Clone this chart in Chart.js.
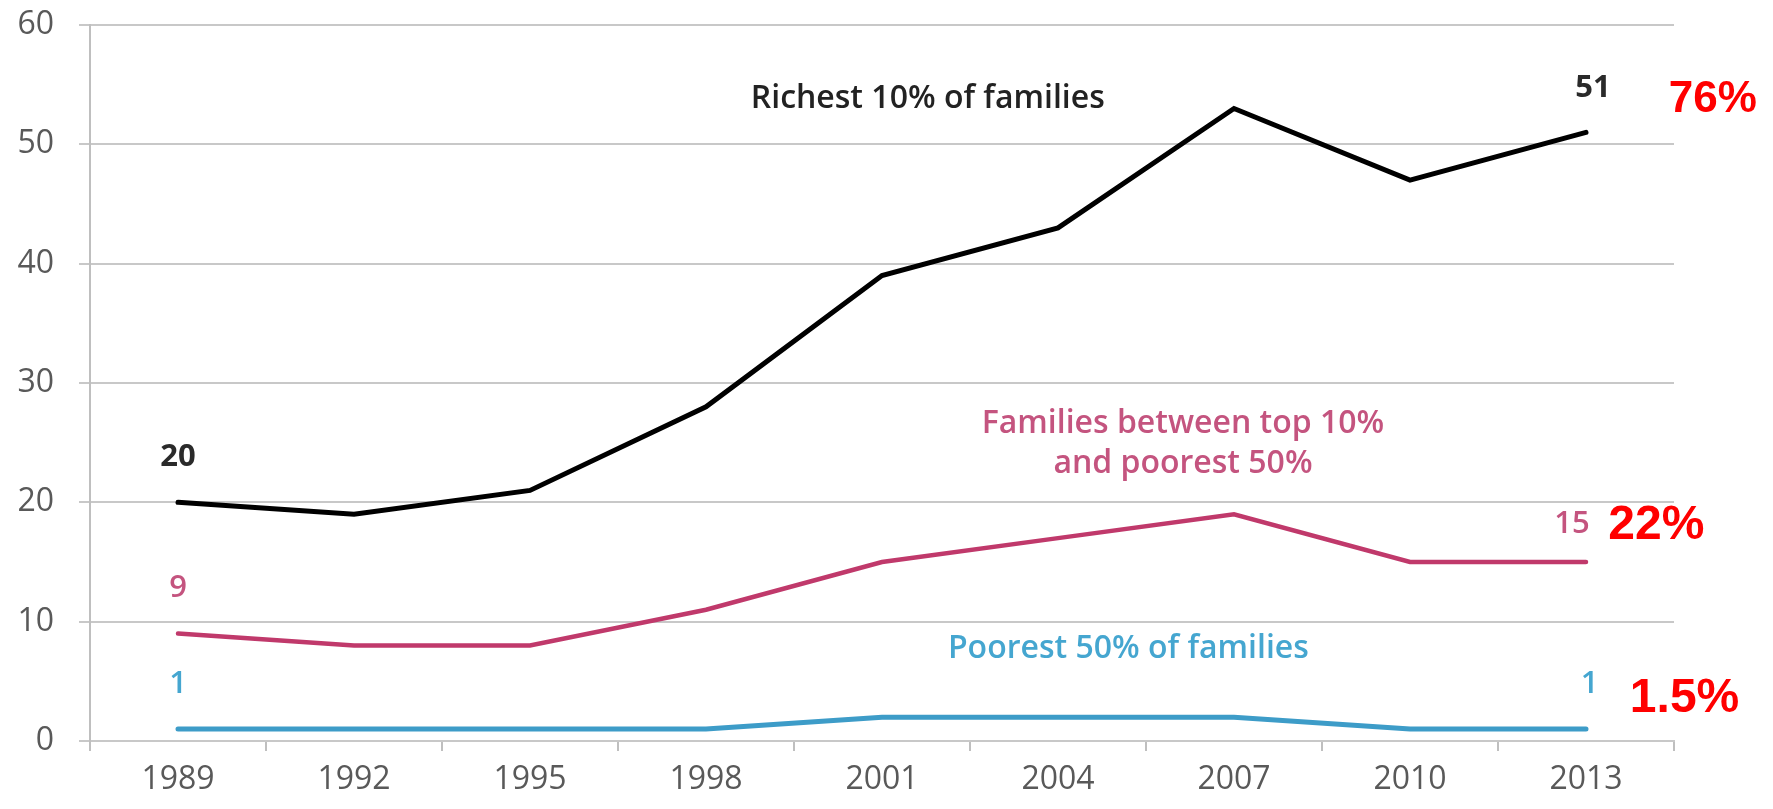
<!DOCTYPE html>
<html>
<head>
<meta charset="utf-8">
<script src="https://cdn.jsdelivr.net/npm/chart.js@4.4.0/dist/chart.umd.min.js"></script>
<style>
    html, body { margin: 0; padding: 0; background: #ffffff; }
    #wealthChart { display: block; }
</style>
</head>
<body>
<canvas id="wealthChart" width="1773" height="809"></canvas>
<script>
const years = ['1989', '1992', '1995', '1998', '2001', '2004', '2007', '2010', '2013'];
const richest = [20, 19, 21, 28, 39, 43, 53, 47, 51];
const middle = [9, 8, 8, 11, 15, 17, 19, 15, 15];
const poorest = [1, 1, 1, 1, 2, 2, 2, 1, 1];
const yTicks = [0, 10, 20, 30, 40, 50, 60];

// text notes: [text, category position, value position, colour, font]
const notes = [
    ['Richest 10% of families', 4.26, 53.8, '#222222', '600 32px "Open Sans"'],
    ['20', 0, 23.8, '#2a2a2a', 'bold 31px "Open Sans"'],
    ['51', 8.04, 54.7, '#2a2a2a', 'bold 31px "Open Sans"'],
    ['76%', 8.72, 53.7, '#ff0000', 'bold 44px "Liberation Sans"'],
    ['Families between top 10%', 5.71, 26.6, '#c4547f', '600 32px "Open Sans"'],
    ['and poorest 50%', 5.71, 23.2, '#c4547f', '600 32px "Open Sans"'],
    ['15', 7.92, 18.2, '#c4547f', '600 31px "Open Sans"'],
    ['22%', 8.40, 18.0, '#ff0000', 'bold 48px "Liberation Sans"'],
    ['9', 0, 12.8, '#c4547f', '600 31px "Open Sans"'],
    ['Poorest 50% of families', 5.40, 7.7, '#45a6d0', '600 32px "Open Sans"'],
    ['1', 0, 4.8, '#45a6d0', '600 31px "Open Sans"'],
    ['1', 8.02, 4.8, '#45a6d0', '600 31px "Open Sans"'],
    ['1.5%', 8.56, 3.5, '#ff0000', 'bold 48px "Liberation Sans"']
];

document.addEventListener('DOMContentLoaded', function () {
    const ctx = document.getElementById('wealthChart').getContext('2d');

    const notePlugin = {
        id: 'notes',
        afterDatasetsDraw(chart) {
            const x = chart.scales.x;
            const y = chart.scales.y;
            const c = chart.ctx;
            c.save();
            c.textAlign = 'center';
            c.textBaseline = 'middle';
            notes.forEach(n => {
                c.font = n[4];
                c.fillStyle = n[3];
                c.fillText(n[0], x.getPixelForValue(n[1]), y.getPixelForValue(n[2]));
            });
            c.restore();
        }
    };

    new Chart(ctx, {
        type: 'line',
        data: {
            labels: years,
            datasets: [
                { label: 'Richest 10%', data: richest, borderColor: '#000000', borderWidth: 5 },
                { label: 'Middle', data: middle, borderColor: '#c0396b', borderWidth: 4.5 },
                { label: 'Poorest 50%', data: poorest, borderColor: '#3d9cc8', borderWidth: 5 }
            ]
        },
        options: {
            responsive: false,
            animation: false,
            layout: { padding: { top: 25, right: 99, left: 0, bottom: 0 } },
            elements: {
                point: { radius: 0 },
                line: { tension: 0, borderCapStyle: 'round', borderJoinStyle: 'miter' }
            },
            plugins: {
                legend: { display: false },
                tooltip: { enabled: false }
            },
            scales: {
                x: {
                    offset: true,
                    grid: {
                        offset: true,
                        drawOnChartArea: false,
                        drawTicks: true,
                        tickLength: 10,
                        color: '#bfbfbf',
                        lineWidth: 2
                    },
                    border: { display: true, color: '#c8c8c8', width: 2 },
                    ticks: {
                        color: '#595959',
                        font: { family: 'Open Sans', size: 32 },
                        padding: 10,
                        maxRotation: 0
                    },
                    afterFit: scale => {
                        scale.height = 68;
                        scale.paddingLeft = 0;
                        scale.paddingRight = 0;
                    }
                },
                y: {
                    min: 0,
                    max: 60,
                    afterBuildTicks: scale => { scale.ticks = yTicks.map(v => ({ value: v })); },
                    grid: {
                        color: '#c8c8c8',
                        lineWidth: 2,
                        tickLength: 11
                    },
                    border: { display: true, color: '#bfbfbf', width: 2 },
                    ticks: {
                        color: '#595959',
                        font: { family: 'Open Sans', size: 32 },
                        padding: 25
                    },
                    afterFit: scale => {
                        scale.width = 90;
                        scale.paddingTop = 0;
                        scale.paddingBottom = 0;
                    }
                }
            }
        },
        plugins: [notePlugin]
    });
});
</script>
</body>
</html>
